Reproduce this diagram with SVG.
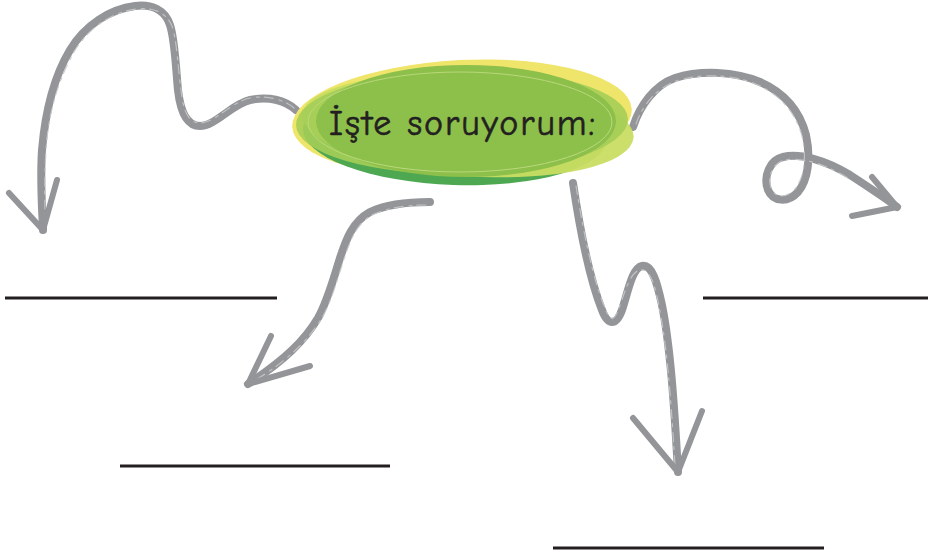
<svg xmlns="http://www.w3.org/2000/svg" width="928" height="554" viewBox="0 0 928 554">
<style>
.arr{fill:none;stroke:#939598;stroke-linecap:round;stroke-linejoin:round}
.main{stroke-width:8}
.tex{stroke:#c4c6c8;stroke-width:1.2;stroke-dasharray:9 5 3 6;opacity:.9}
.head{stroke-width:6}
.blank{stroke:#231f20;stroke-width:3}
.lbl{font-family:"Comic Neue","DejaVu Sans","Liberation Sans",sans-serif;font-size:36px;font-weight:400;fill:#231f20;stroke:#231f20;stroke-width:0.6}
</style>
<rect width="928" height="554" fill="#ffffff"/>
<g id="connectors">
  <g id="arrow-left">
    <path class="arr main" d="M296,110 C285,100 268,96 250,100 C232,104 215,126 200,126 C185,126 180,108 178,90 C176,70 175,40 170,25 C165,10 152,4 135,6 C110,9 85,25 70,50 C52,80 45,115 42,150 C40,180 42,205 43,230"/>
    <path class="arr tex" d="M294,108 C283,99 266,95 250,98 C231,102 215,123 200,123 C187,123 183,108 181,90 C178,70 177,40 172,26 C166,12 153,7 136,9 C112,12 88,28 74,52 C57,82 48,116 46,150 C44,180 45,205 45,225"/>
    <path class="arr head" d="M9,193 L43,230 L57,180"/>
  </g>
  <g id="arrow-midleft">
    <path class="arr main" d="M430,202 C405,202 385,205 370,212 C352,222 346,240 340,258 C333,280 328,300 318,318 C305,340 285,360 248,384"/>
    <path class="arr tex" d="M426,205 C405,205 387,208 372,215 C356,224 350,241 344,259 C337,280 332,300 322,318 C308,340 289,360 254,381"/>
    <path class="arr head" d="M271,336 L248,384 L310,366"/>
  </g>
  <g id="arrow-down">
    <path class="arr main" d="M573,183 C580,230 590,280 602,310 C608,326 616,326 622,310 C628,292 632,268 642,266 C652,264 657,282 662,305 C670,345 674,400 678,472"/>
    <path class="arr tex" d="M576,186 C583,230 593,280 605,308 C610,322 614,322 619,308 C625,292 630,272 640,270 C650,268 655,285 659,306 C667,345 671,400 675,465"/>
    <path class="arr head" d="M633,418 L678,472 L702,411"/>
  </g>
  <g id="arrow-right">
    <path class="arr main" d="M633,127 C640,105 655,85 675,78 C700,70 735,71 760,82 C785,93 800,112 806,135 C811,158 808,180 798,192 C788,203 773,202 768,190 C763,176 770,160 783,157 C800,153 825,160 850,175 C870,188 885,198 897,207"/>
    <path class="arr tex" d="M636,124 C643,104 657,88 676,81 C700,73 734,74 758,85 C782,96 796,114 802,136 C807,158 804,178 795,189 C786,199 775,198 771,188 C767,176 773,163 784,160 C800,157 824,163 848,178"/>
    <path class="arr head" d="M872,177 L897,207 L852,216"/>
  </g>
</g>
<g id="node-center">
  <ellipse cx="462" cy="118" rx="170" ry="58" transform="rotate(-3 462 118)" fill="#efe56b"/>
  <ellipse cx="455" cy="134" rx="152" ry="51" transform="rotate(2 455 134)" fill="#4ea852"/>
  <ellipse cx="468" cy="126" rx="166" ry="50" transform="rotate(4 468 126)" fill="#c9dd62" opacity="0.95"/>
  <ellipse cx="462" cy="122" rx="166" ry="52" transform="rotate(-1 462 122)" fill="#a4cd56" opacity="0.9"/>
  <ellipse cx="466" cy="121" rx="150" ry="56" fill="#8dbf4b"/>
  <ellipse cx="460" cy="122" rx="152" ry="50" fill="none" stroke="#b9d97a" stroke-width="1"/>
  <text class="lbl" x="329" y="135" textLength="266" lengthAdjust="spacing">İşte soruyorum:</text>
</g>
<g id="blanks">
  <line class="blank" x1="5" y1="298" x2="277" y2="298"/>
  <line class="blank" x1="120" y1="466" x2="390" y2="466"/>
  <line class="blank" x1="703" y1="298" x2="928" y2="298"/>
  <line class="blank" x1="553" y1="548" x2="824" y2="548"/>
</g>
</svg>
